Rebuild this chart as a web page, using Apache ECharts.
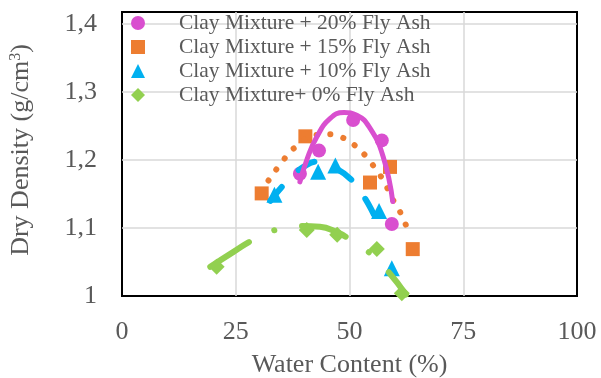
<!DOCTYPE html>
<html><head><meta charset="utf-8">
<script src="https://cdn.jsdelivr.net/npm/echarts@6/dist/echarts.min.js"></script>
<style>html,body{margin:0;padding:0;background:#fff}#c{width:601px;height:378px}</style>
</head><body><div id="c"></div>
<script>
// Series names
const names = ['Clay Mixture + 20% Fly Ash','Clay Mixture + 15% Fly Ash','Clay Mixture + 10% Fly Ash','Clay Mixture+ 0% Fly Ash'];
// Measured points [water content %, dry density]
const fa20 = [[39.1,1.180],[43.3,1.214],[50.8,1.259],[57.1,1.229],[59.3,1.106]];
const fa15 = [[30.7,1.151],[40.3,1.235],[54.5,1.167],[58.9,1.190],[63.9,1.069]];
const fa10 = [[33.5,1.149],[43.1,1.183],[46.9,1.192],[56.5,1.125],[59.3,1.041]];
const fa0  = [[20.8,1.043],[40.6,1.097],[47.3,1.090],[56.0,1.069],[61.5,1.004]];
// Trendlines
const tr20 = [[39.1,1.168],[40.6,1.200],[42.8,1.234],[45.7,1.261],[48.8,1.270],[51.6,1.266],[54.5,1.247],[57.4,1.205],[59.5,1.139]];
const tr15 = [[32.2,1.170],[35.7,1.202],[37.7,1.217],[42.9,1.237],[45.7,1.238],[48.5,1.233],[51.1,1.222],[53.3,1.208],[55.1,1.193],[56.8,1.177],[58.3,1.159],[59.6,1.141],[61.1,1.124],[62.3,1.106],[63.5,1.087]];
const tr10 = [[32.6,1.140],[36.6,1.171],[40.6,1.193],[43.5,1.198],[46.4,1.190],[50.1,1.173],[52.7,1.151],[55.2,1.122],[57.4,1.090]];
const tr0  = [[19.4,1.043],[24.5,1.065],[28.9,1.083],[34.1,1.098],[39.5,1.103],[43.5,1.102],[47.2,1.094],[49.7,1.085],[54.5,1.063],[58.5,1.036],[62.4,1.002]];
const yTicks = [1,1.1,1.2,1.3,1.4];
const xTicks = [0,25,50,75,100];

const colors = ['#D94FCF','#ED7D31','#00B0F0','#92D050'];
const symbols = ['circle','rect','triangle','diamond'];
const font = 'Liberation Serif, Times New Roman, serif';
const grey = '#595959';

const chart = echarts.init(document.getElementById('c'), null, {renderer:'canvas'});
const scat = [fa20,fa15,fa10,fa0].map((d,i)=>({
  name:names[i], type:'scatter', data:d, symbol:symbols[i],
  symbolSize: i===2?16:(i===3?16:14), itemStyle:{color:colors[i], opacity:1}, z:2
}));
const lines = [
  {data:tr15, color:colors[1], type:[0.1,13.5], width:6},
  {data:tr10, color:colors[2], type:[18,24], width:6},
  {data:tr0, color:colors[3], type:[46,28,0.1,28], width:6},
  {data:tr20, color:colors[0], type:'solid', width:5}
].map(l=>({type:'line', data:l.data, smooth:true, showSymbol:false, silent:true, z:3,
  lineStyle:{color:l.color, width:l.width, type:l.type, cap:'round', join:'round'}}));

chart.setOption({
  animation:false,
  grid:{left:122, right:24, top:12, bottom:82, show:true, borderColor:'#000', borderWidth:2,
    containLabel:false, outerBoundsMode:'none'},
  legend:{
    data:names.map((n,i)=>({name:n, icon:symbols[i]})),
    orient:'vertical', left:131, top:12, padding:0, itemGap:2,
    itemWidth:14, itemHeight:14,
    textStyle:{fontFamily:font, fontSize:21.5, color:grey, lineHeight:21, padding:[0,0,0,29]}
  },
  xAxis:{
    type:'value', min:0, max:100, interval:25,
    name:'Water Content (%)', nameLocation:'middle', nameGap:56,
    nameTextStyle:{fontFamily:font, fontSize:26, color:grey},
    axisLine:{show:false}, axisTick:{show:false},
    axisLabel:{fontFamily:font, fontSize:26, color:grey, margin:23,
      formatter:v=>xTicks.includes(v)?String(v):''},
    splitLine:{showMinLine:false, showMaxLine:false, lineStyle:{color:'#d9d9d9', width:1.5}}
  },
  yAxis:{
    type:'value', min:1, max:1.418, interval:0.1,
    name:'Dry Density (g/cm{sup|3})', nameLocation:'middle', nameGap:88,
    nameTextStyle:{fontFamily:font, fontSize:26, color:grey, padding:[0,0,0,8],
      rich:{sup:{fontFamily:font, fontSize:16, color:grey, verticalAlign:'top', lineHeight:26}}},
    axisLine:{show:false}, axisTick:{show:false},
    axisLabel:{fontFamily:font, fontSize:26, color:grey, margin:25,
      formatter:v=>{const t=yTicks.find(k=>Math.abs(k-v)<1e-6); return t===undefined?'':String(t).replace('.',',');}},
    splitLine:{showMinLine:false, showMaxLine:false, lineStyle:{color:'#d9d9d9', width:1.5}}
  },
  series: scat.concat(lines)
});
</script></body></html>
